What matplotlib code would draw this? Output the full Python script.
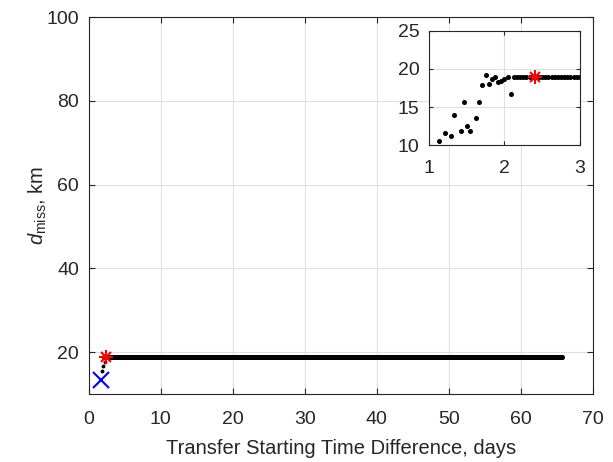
import numpy as np
import matplotlib
matplotlib.use('Agg')
import matplotlib.pyplot as plt

plt.rcParams['font.family'] = ['Liberation Sans', 'DejaVu Sans']
plt.rcParams['mathtext.fontset'] = 'custom'
plt.rcParams['mathtext.rm'] = 'Liberation Sans'
plt.rcParams['mathtext.it'] = 'Liberation Sans:italic'

# early samples (days, km)
early_t = [1.125, 1.208, 1.292, 1.333, 1.417, 1.458, 1.5, 1.542, 1.625, 1.667,
           1.708, 1.75, 1.792, 1.833, 1.875, 1.917, 1.958, 2.0, 2.042, 2.083]
early_d = [10.5, 11.6, 11.2, 13.9, 11.9, 15.7, 12.5, 11.9, 13.5, 15.6,
           17.9, 19.2, 18.0, 18.7, 18.9, 18.3, 18.4, 18.7, 18.9, 16.7]

# points visible near the start of the main view
main_t = [1.76, 1.98, 2.2]
main_d = [15.6, 16.6, 17.6]

# plateau: hourly samples at a constant miss distance
flat_start = 2.125
flat_end = 65.7
flat_step = 1 / 24
flat_d = 18.9
flat_t = np.arange(flat_start, flat_end, flat_step)

best_t, best_d = 2.4, 18.9      # red asterisk
first_t, first_d = 1.7, 13.3    # blue cross

ink = '#262626'

fig = plt.figure(figsize=(6.13, 4.62), dpi=100)
ax = fig.add_axes([0.145, 0.147, 0.822, 0.816])

ax.plot(main_t, main_d, 'o', color='k', ms=1.8, ls='none')
ax.plot(flat_t, np.full(len(flat_t), flat_d), 'o', color='k', ms=2.6, ls='none')
ax.plot(best_t, best_d, '+', color='r', ms=10, mew=1.5)
ax.plot(best_t, best_d, 'x', color='r', ms=7.5, mew=1.5)
ax.plot(first_t, first_d, 'x', color='b', ms=11, mew=1.5)

ax.set_xlim(0, 70)
ax.set_ylim(10, 100)
ax.set_xticks(range(0, 71, 10))
ax.set_yticks(range(20, 101, 20))
ax.grid(True, color='#e0e0e0', lw=0.8)
ax.set_axisbelow(True)
ax.tick_params(direction='in', labelsize=14, colors=ink, length=4, top=True, right=True,
               labeltop=False, labelright=False)
ax.tick_params(axis='x', pad=12)
ax.tick_params(axis='y', pad=7)
for s in ax.spines.values():
    s.set_color(ink)
ax.set_xlabel('Transfer Starting Time Difference, days', fontsize=14.5, color=ink, labelpad=8)
ax.set_ylabel(r'$d_{\mathrm{miss}}$, km', fontsize=14.5, color=ink, labelpad=-2)

# inset zoom of the first days
ins = fig.add_axes([0.700, 0.686, 0.246, 0.247])
ins.plot(early_t, early_d, 'o', color='k', ms=2.6, ls='none')
ins.plot(flat_t, np.full(len(flat_t), flat_d), 'o', color='k', ms=2.6, ls='none')
ins.plot(best_t, best_d, '+', color='r', ms=10, mew=1.5)
ins.plot(best_t, best_d, 'x', color='r', ms=7.5, mew=1.5)
ins.set_xlim(1, 3)
ins.set_ylim(10, 25)
ins.set_xticks([1, 2, 3])
ins.set_yticks([10, 15, 20, 25])
ins.grid(True, color='#e0e0e0', lw=0.8)
ins.set_axisbelow(True)
ins.tick_params(direction='in', labelsize=14, colors=ink, length=3, top=True, right=True,
                labeltop=False, labelright=False)
ins.tick_params(axis='x', pad=11)
ins.tick_params(axis='y', pad=7)
for s in ins.spines.values():
    s.set_color(ink)

fig.savefig('out.png', dpi=100)
